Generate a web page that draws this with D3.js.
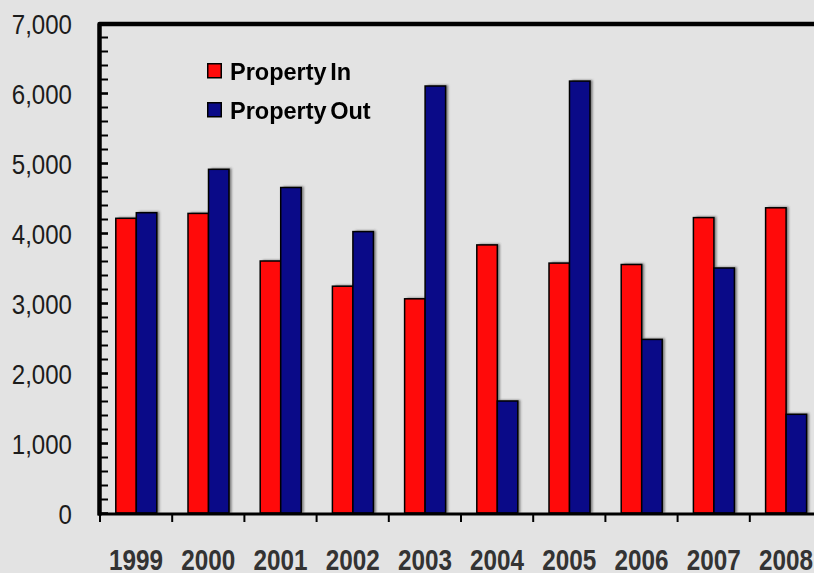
<!DOCTYPE html>
<html>
<head>
<meta charset="utf-8">
<script src="https://cdn.jsdelivr.net/npm/d3@7/dist/d3.min.js"></script>
<style>
  html, body { margin: 0; padding: 0; background: #e3e3e3; }
  svg { display: block; }
</style>
</head>
<body>
<div id="chart"></div>
<script>
// Annual property transfers, in and out
const years = ["1999", "2000", "2001", "2002", "2003", "2004", "2005", "2006", "2007", "2008"];
const propertyIn  = [4210, 4280, 3600, 3240, 3060, 3830, 3570, 3550, 4220, 4360];
const propertyOut = [4290, 4910, 4650, 4020, 6100, 1600, 6170, 2480, 3500, 1410];
const seriesNames = ["Property In", "Property Out"];
const seriesColors = ["#ff0a0a", "#0a0a88"];
const yMajorTicks = [0, 1000, 2000, 3000, 4000, 5000, 6000, 7000];

const W = 814, H = 573;
const plotLeft = 100, plotRight = 822, plotTop = 23, plotBottom = 513;

const svg = d3.select("#chart").append("svg")
  .attr("width", W).attr("height", H);

svg.append("rect").attr("width", W).attr("height", H).attr("fill", "#e3e3e3");

const defs = svg.append("defs");
defs.append("filter").attr("id", "soft")
  .attr("x", "-50%").attr("y", "-10%").attr("width", "200%").attr("height", "120%")
  .append("feGaussianBlur").attr("stdDeviation", 1.1);

const x = d3.scaleBand().domain(years).range([plotLeft, plotRight]);
const x1 = d3.scaleBand().domain(seriesNames).range([15.8, 56.8]);
const y = d3.scaleLinear().domain([0, 7000]).range([plotBottom, plotTop]);

const rows = years.map((yr, i) => ({ year: yr, values: [propertyIn[i], propertyOut[i]] }));
const flat = [];
rows.forEach(r => r.values.forEach((v, j) => flat.push({ year: r.year, series: seriesNames[j], color: seriesColors[j], value: v })));

// drop shadows behind the bars
svg.append("g").attr("filter", "url(#soft)")
  .selectAll("rect").data(flat).join("rect")
  .attr("x", d => x(d.year) + x1(d.series) + 2.5)
  .attr("y", d => y(d.value) - 1)
  .attr("width", x1.bandwidth())
  .attr("height", d => y(0) - y(d.value) + 1)
  .attr("fill", "#555").attr("opacity", 0.75);

// bars
svg.append("g").selectAll("rect").data(flat).join("rect")
  .attr("x", d => x(d.year) + x1(d.series))
  .attr("y", d => y(d.value))
  .attr("width", x1.bandwidth())
  .attr("height", d => y(0) - y(d.value))
  .attr("fill", d => d.color)
  .attr("stroke", "#000").attr("stroke-width", 1.5);

// y axis: minor ticks pointing into the plot
const yMinor = svg.append("g").attr("transform", `translate(${plotLeft},0)`)
  .call(d3.axisRight(y).tickValues(y.ticks(35)).tickSize(8).tickFormat(""));
yMinor.select(".domain").remove();
yMinor.selectAll(".tick line").attr("stroke", "#000")
  .attr("stroke-width", d => d % 1000 === 0 ? 2.6 : 2);

// y axis labels
const yLab = svg.append("g").attr("transform", `translate(72,0)`)
  .call(d3.axisLeft(y).tickValues(yMajorTicks).tickSize(0).tickPadding(0).tickFormat(d3.format(",")));
yLab.select(".domain").remove();
yLab.selectAll(".tick text")
  .attr("x", 0).attr("dy", "0.36em")
  .attr("text-anchor", "end")
  .attr("transform", "scale(0.86,1)")
  .attr("font-family", "'Liberation Sans', Arial, sans-serif")
  .attr("font-size", 28).attr("fill", "#1c1c1c");

// x axis: ticks on category boundaries pointing down
const bounds = years.map(d => x(d));
svg.append("g").selectAll("line").data(bounds).join("line")
  .attr("x1", d => d).attr("x2", d => d)
  .attr("y1", plotBottom + 1).attr("y2", plotBottom + 9)
  .attr("stroke", "#000").attr("stroke-width", 2);

// bottom axis line
svg.append("line")
  .attr("x1", plotLeft - 2).attr("x2", plotRight).attr("y1", plotBottom + 1).attr("y2", plotBottom + 1)
  .attr("stroke", "#000").attr("stroke-width", 3);

// left axis and top border
svg.append("path")
  .attr("d", `M${plotLeft - 0.5},${plotBottom + 2.5} V${plotTop + 1} H${plotRight}`)
  .attr("fill", "none").attr("stroke", "#000").attr("stroke-width", 4.5)
  .attr("stroke-linejoin", "round");

// x labels
svg.append("g").selectAll("text").data(years).join("text")
  .attr("transform", d => `translate(${x(d) + x.bandwidth() / 2},570) scale(0.81,1)`)
  .attr("text-anchor", "middle")
  .attr("font-family", "'Liberation Sans', Arial, sans-serif")
  .attr("font-weight", "bold").attr("font-size", 30)
  .attr("fill", "#333")
  .text(d => d);

// legend
const legend = svg.append("g").attr("transform", "translate(207,63)");
const li = legend.selectAll("g").data(seriesNames).join("g")
  .attr("transform", (d, i) => `translate(0,${i * 39})`);
li.append("rect")
  .attr("x", 0.75).attr("y", 0.75).attr("width", 13.5).attr("height", 14)
  .attr("fill", (d, i) => seriesColors[i])
  .attr("stroke", "#000").attr("stroke-width", 1.5);
li.append("text")
  .attr("x", 23).attr("y", 16.5)
  .attr("font-family", "'Liberation Sans', Arial, sans-serif")
  .attr("font-weight", "bold").attr("font-size", 23.5)
  .attr("word-spacing", -3)
  .attr("fill", "#000")
  .text(d => d);
</script>
</body>
</html>
